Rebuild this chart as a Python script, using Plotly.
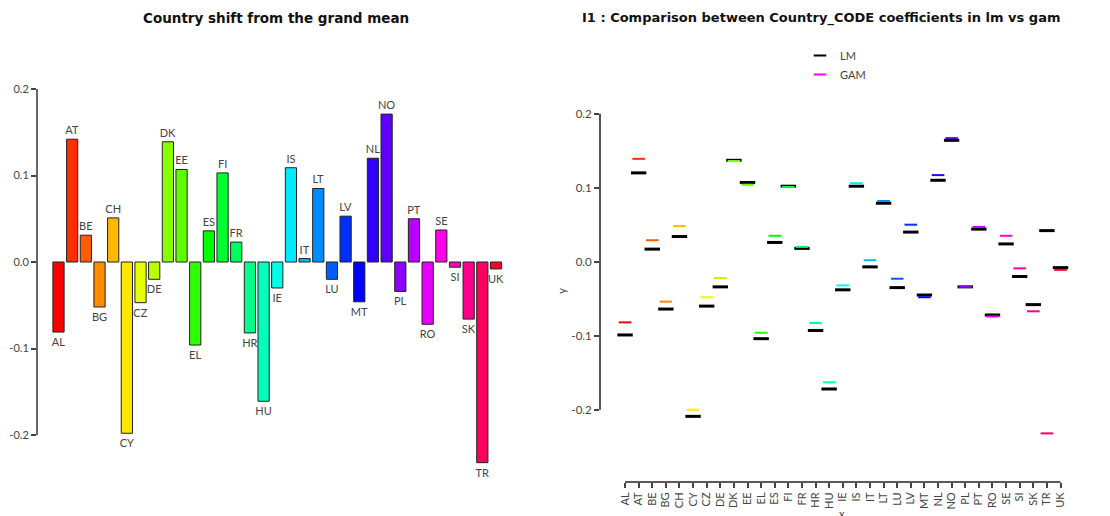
import colorsys
import plotly.graph_objects as go

countries = ["AL", "AT", "BE", "BG", "CH", "CY", "CZ", "DE", "DK", "EE", "EL", "ES", "FI",
             "FR", "HR", "HU", "IE", "IS", "IT", "LT", "LU", "LV", "MT", "NL", "NO", "PL",
             "PT", "RO", "SE", "SI", "SK", "TR", "UK"]

shift = [-0.081, 0.142, 0.031, -0.052, 0.051, -0.198, -0.047, -0.020, 0.139, 0.107, -0.096,
         0.036, 0.103, 0.023, -0.082, -0.161, -0.030, 0.109, 0.004, 0.085, -0.020, 0.053,
         -0.046, 0.120, 0.171, -0.034, 0.050, -0.072, 0.037, -0.006, -0.066, -0.232, -0.008]

lm_coef = [-0.099, 0.120, 0.017, -0.064, 0.034, -0.209, -0.060, -0.034, 0.137, 0.107, -0.104,
           0.026, 0.102, 0.018, -0.093, -0.172, -0.038, 0.102, -0.007, 0.079, -0.035, 0.040,
           -0.045, 0.110, 0.164, -0.034, 0.044, -0.072, 0.024, -0.020, -0.058, 0.042, -0.008]

gam_coef = [-0.082, 0.139, 0.029, -0.054, 0.048, -0.200, -0.048, -0.022, 0.136, 0.104, -0.096,
            0.035, 0.101, 0.020, -0.083, -0.163, -0.032, 0.106, 0.002, 0.082, -0.023, 0.050,
            -0.048, 0.117, 0.167, -0.034, 0.047, -0.074, 0.035, -0.009, -0.067, -0.232, -0.011]

y_ticks = [-0.2, -0.1, 0.0, 0.1, 0.2]
y_tick_labels = ["-0.2", "-0.1", "0.0", "0.1", "0.2"]


def rainbow(n):
    out = []
    for i in range(n):
        r, g, b = colorsys.hsv_to_rgb(i / n, 1, 1)
        out.append("#%02x%02x%02x" % (round(r * 255), round(g * 255), round(b * 255)))
    return out


cols = rainbow(len(countries))
OFF = 8  # default page body margin
W, H = 1110 - OFF, 516 - OFF
FONT = "Lato"
TFONT = "DejaVu Sans"


def px_x(p):
    return (p - OFF) / W


def px_y(p):
    return 1 - (p - OFF) / H


fig = go.Figure()

# Left: bar chart
fig.add_trace(go.Bar(
    x=countries, y=shift, marker=dict(color=cols, line=dict(color="#222", width=1)),
    text=countries, textposition="outside", cliponaxis=False,
    textfont=dict(size=11, color="#444", family=FONT),
    xaxis="x", yaxis="y", showlegend=False, hoverinfo="x+y",
))

# Right: LM (black) then GAM (colored) line markers
fig.add_trace(go.Scatter(
    x=countries, y=lm_coef, mode="markers",
    marker=dict(symbol="line-ew", size=11, line=dict(color="black", width=3)),
    xaxis="x2", yaxis="y2", showlegend=False,
))
fig.add_trace(go.Scatter(
    x=countries, y=gam_coef, mode="markers",
    marker=dict(symbol="line-ew", size=9, line=dict(color=cols, width=2)),
    xaxis="x2", yaxis="y2", showlegend=False,
))
# legend entries
fig.add_trace(go.Scatter(x=[None], y=[None], mode="markers", name="LM",
                         marker=dict(symbol="line-ew", size=9, line=dict(color="black", width=2)),
                         xaxis="x2", yaxis="y2"))
fig.add_trace(go.Scatter(x=[None], y=[None], mode="markers", name="GAM",
                         marker=dict(symbol="line-ew", size=9, line=dict(color="#ff00ff", width=2)),
                         xaxis="x2", yaxis="y2"))

tickstyle = dict(ticks="outside", ticklen=5, tickwidth=1.5, tickcolor="#444",
                 showgrid=False, zeroline=False, showline=False, automargin=False,
                 tickmode="array", tickvals=y_ticks, ticktext=y_tick_labels)

fig.update_layout(
    width=W, height=H,
    margin=dict(l=0, r=0, t=0, b=0),
    paper_bgcolor="white", plot_bgcolor="white",
    font=dict(family=FONT, color="#444"),
    bargap=0.18,
    uniformtext=dict(minsize=11, mode="show"),
    xaxis=dict(domain=[px_x(37), px_x(512)], range=[-1.573, 33.17], visible=False,
               type="category", automargin=False),
    yaxis=dict(domain=[px_y(490), px_y(70)], range=[-0.2636, 0.222], anchor="x",
               tickfont=dict(size=11, color="#444", family=FONT), **tickstyle),
    xaxis2=dict(domain=[px_x(600), px_x(1085)], range=[-1.84, 33.8], type="category",
                anchor="y2", showgrid=False, zeroline=False, showline=False,
                automargin=False,
                ticks="outside", ticklen=5, tickwidth=1.5, tickcolor="#444",
                tickangle=-90, tickfont=dict(size=11, color="#444", family=FONT)),
    yaxis2=dict(domain=[px_y(482), px_y(100)], range=[-0.2977, 0.2185], anchor="x2",
                title=dict(text="y", font=dict(size=11, color="#444", family=FONT),
                           standoff=2),
                tickfont=dict(size=11.5, color="#444", family=FONT), **tickstyle),
    legend=dict(x=px_x(800), y=px_y(41), xanchor="left", yanchor="top",
                font=dict(size=11, color="#444", family=FONT),
                bgcolor="rgba(0,0,0,0)", tracegroupgap=0),
    shapes=[
        dict(type="line", xref="x domain", yref="y", x0=0, x1=0, y0=-0.2, y1=0.2,
             line=dict(color="#333", width=1.5)),
        dict(type="line", xref="x2 domain", yref="y2", x0=0, x1=0, y0=-0.2, y1=0.2,
             line=dict(color="#555", width=2)),
        dict(type="line", xref="x2", yref="y2 domain", x0=0, x1=len(countries) - 1,
             y0=0, y1=0, line=dict(color="#222", width=1.5)),
    ],
    annotations=[
        dict(text="<b>Country shift from the grand mean</b>", x=px_x(276), y=px_y(18),
             xref="paper", yref="paper", xanchor="center", yanchor="middle",
             showarrow=False, font=dict(size=13.5, color="#111", family=TFONT)),
        dict(text="<b>I1 : Comparison between Country_CODE coefficients in lm vs gam</b>",
             x=px_x(821), y=px_y(18), xref="paper", yref="paper", xanchor="center",
             yanchor="middle", showarrow=False,
             font=dict(size=13, color="#111", family=TFONT)),
        dict(text="x", x=px_x(842), y=px_y(505), xref="paper", yref="paper",
             xanchor="center", yanchor="top", showarrow=False,
             font=dict(size=11, color="#444", family=FONT)),
    ],
)

fig.write_html("out.html")
